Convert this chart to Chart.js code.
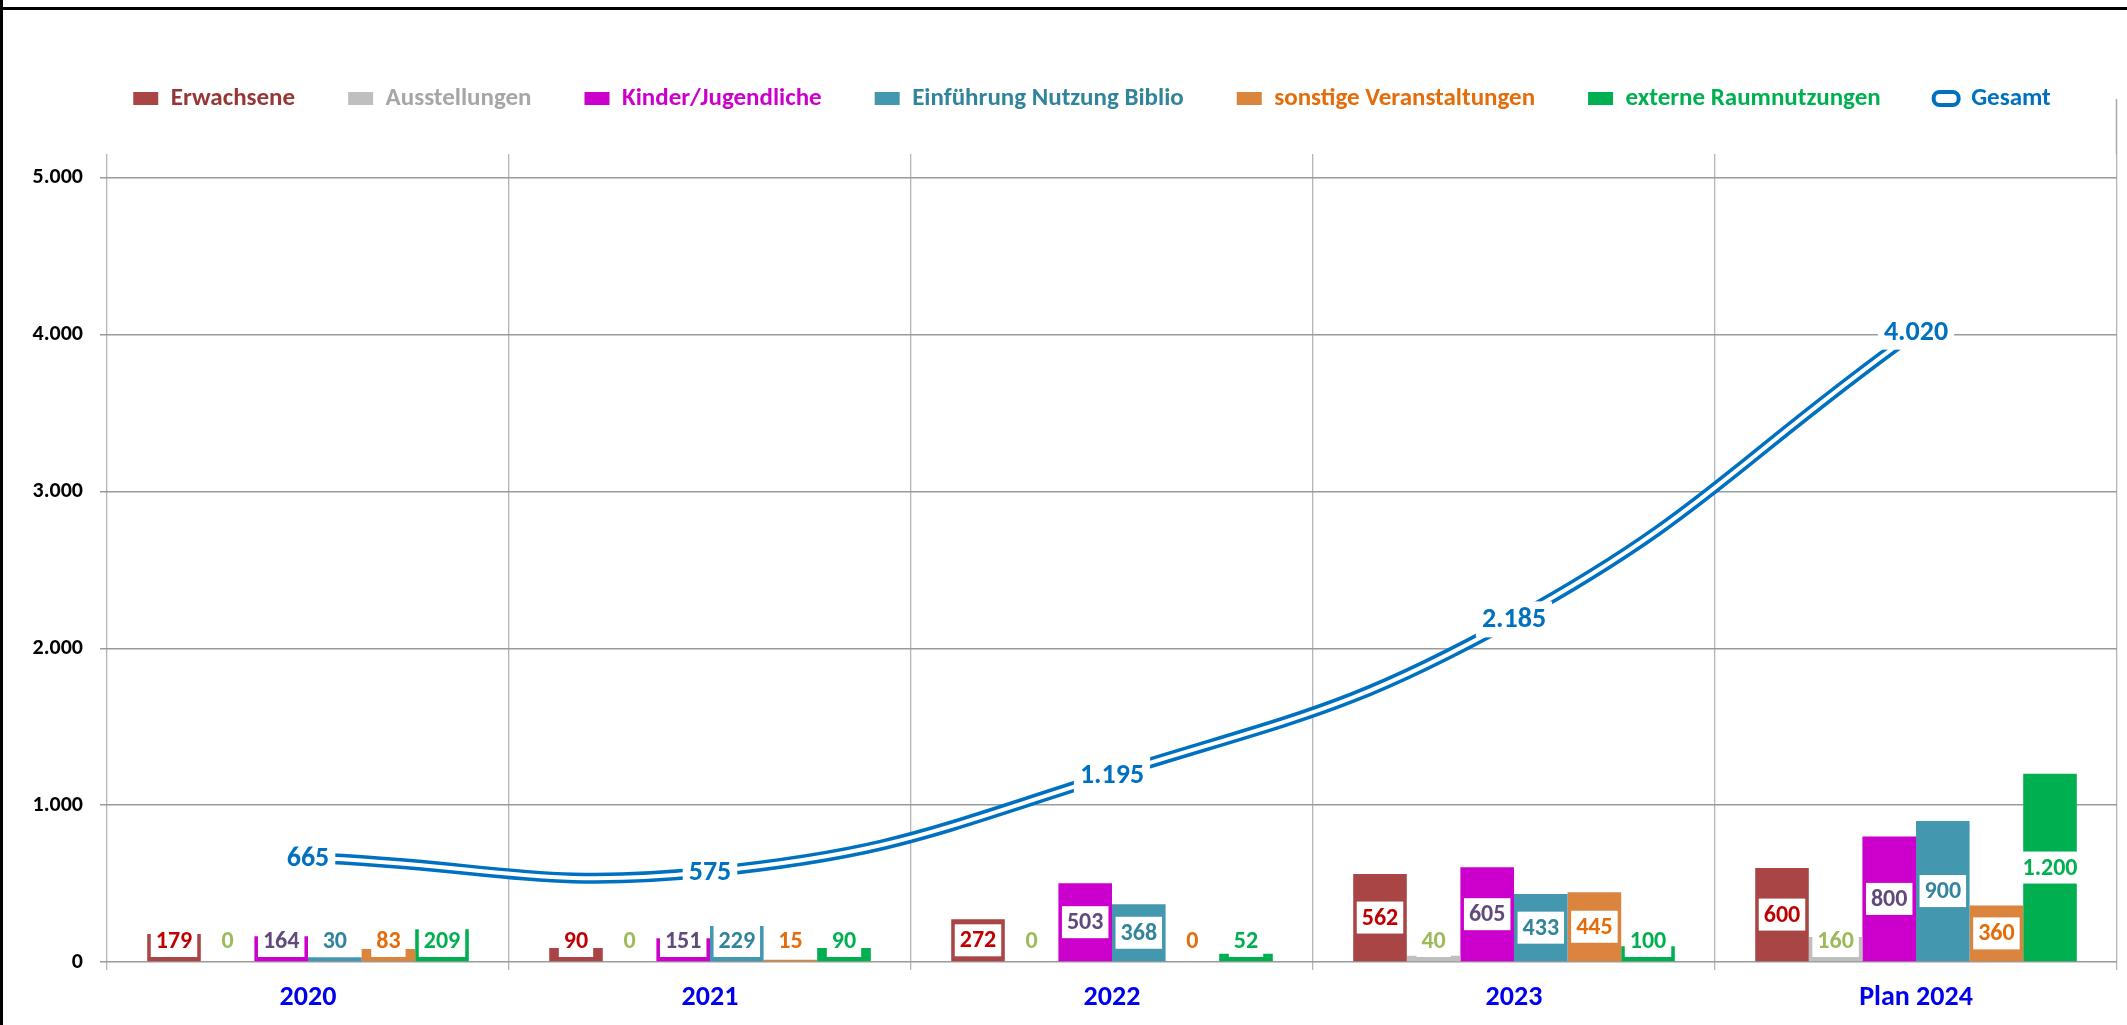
<!DOCTYPE html>
<html><head><meta charset="utf-8">
<script src="https://cdn.jsdelivr.net/npm/chart.js@4/dist/chart.umd.min.js"></script>
<style>
html,body{margin:0;padding:0;background:#fff;}
#wrap{position:relative;width:2127px;height:1025px;overflow:hidden;background:#fff;}
#c{position:absolute;left:0;top:0;}
.bt{position:absolute;left:0;top:7px;width:2127px;height:3px;background:#000;}
.bl{position:absolute;left:0;top:0;width:3px;height:1025px;background:#000;}
</style></head><body>
<div id="wrap"><canvas id="c" width="2127" height="1025"></canvas><div class="bt"></div><div class="bl"></div></div>
<script>
// ---- data ----
const categories = ['2020', '2021', '2022', '2023', 'Plan 2024'];
const erwachsene = [179, 90, 272, 562, 600];
const ausstellungen = [0, 0, 0, 40, 160];
const kinderJugendliche = [164, 151, 503, 605, 800];
const einfuehrung = [30, 229, 368, 433, 900];
const sonstige = [83, 15, 0, 445, 360];
const externe = [209, 90, 52, 100, 1200];
const gesamt = [665, 575, 1195, 2185, 4020];
const yTicks = [0, 1000, 2000, 3000, 4000, 5000];

const FONT = 'Carlito, Lato, "DejaVu Sans", sans-serif';
const fmt = v => String(Math.round(v)).replace(/\B(?=(\d{3})+(?!\d))/g, '.');

function barDs(label, data, color, labelColor, legendColor) {
  return { type: 'bar', label, data, backgroundColor: color, borderWidth: 0,
           labelColor, legendColor, order: 1 };
}

const datasets = [
  barDs('Erwachsene', erwachsene, '#A94645', '#C00000', '#953735'),
  barDs('Ausstellungen', ausstellungen, '#BFBFBF', '#9BBB59', '#A6A6A6'),
  barDs('Kinder/Jugendliche', kinderJugendliche, '#CC00CC', '#604A7B', '#CC00CC'),
  barDs('Einführung Nutzung Biblio', einfuehrung, '#4398AF', '#31849B', '#31849B'),
  barDs('sonstige Veranstaltungen', sonstige, '#DB843D', '#E46C0A', '#E46C0A'),
  barDs('externe Raumnutzungen', externe, '#00B050', '#00B050', '#00B050'),
  { type: 'line', label: 'Gesamt', data: gesamt, borderColor: '#0070C0', backgroundColor: '#ffffff',
    borderWidth: 11, pointRadius: 0, pointHoverRadius: 0, tension: 0.45, fill: false,
    order: -1, lineLabel: true, legendColor: '#0070C0' },
  { type: 'line', label: 'Gesamt-inner', data: gesamt, borderColor: '#ffffff',
    borderWidth: 4, pointRadius: 0, pointHoverRadius: 0, tension: 0.45, fill: false,
    order: -2, overlay: true }
];

const LEGEND_TOP = 33;
const LEGEND_H = 154 - LEGEND_TOP;

const legendHeightPlugin = {
  id: 'legendHeight',
  beforeLayout(chart) {
    const lg = chart.legend;
    if (lg && !lg._patched) {
      const orig = lg.fit;
      lg.fit = function () { orig.call(this); this.height = LEGEND_H; };
      lg._patched = true;
    }
  }
};

const decoPlugin = {
  id: 'deco',
  beforeDatasetsDraw(chart) {
    const ctx = chart.ctx, a = chart.chartArea;
    ctx.save();
    ctx.strokeStyle = '#a8a8a8';
    ctx.lineWidth = 1.5;
    ctx.beginPath();
    ctx.moveTo(a.right - 0.5, 99);
    ctx.lineTo(a.right - 0.5, a.top);
    ctx.stroke();
    ctx.restore();
  }
};

const labelPlugin = {
  id: 'valueLabels',
  afterDatasetsDraw(chart) {
    const ctx = chart.ctx;
    const zeroY = chart.scales.y.getPixelForValue(0);
    ctx.save();
    ctx.textAlign = 'center';
    ctx.textBaseline = 'middle';
    chart.data.datasets.forEach((ds, i) => {
      if (!ds.labelColor) return;
      const meta = chart.getDatasetMeta(i);
      ctx.font = 'bold 24px ' + FONT;
      meta.data.forEach((el, j) => {
        const txt = fmt(ds.data[j]);
        const w = ctx.measureText(txt).width;
        const bw = w + 10, bh = 32;
        const center = (el.y + el.base) / 2;
        const cy = Math.min(center, zeroY - 5 - bh / 2);
        ctx.fillStyle = '#ffffff';
        ctx.fillRect(el.x - bw / 2, cy - bh / 2, bw, bh);
        ctx.fillStyle = ds.labelColor;
        ctx.fillText(txt, el.x, cy + 1);
      });
    });
    chart.data.datasets.forEach((ds, i) => {
      if (!ds.lineLabel) return;
      const meta = chart.getDatasetMeta(i);
      ctx.font = 'bold 28px ' + FONT;
      meta.data.forEach((el, j) => {
        const txt = fmt(ds.data[j]);
        const w = ctx.measureText(txt).width;
        const bw = w + 12, bh = 36;
        ctx.fillStyle = '#ffffff';
        ctx.fillRect(el.x - bw / 2, el.y - bh / 2, bw, bh);
        ctx.fillStyle = '#0070C0';
        ctx.fillText(txt, el.x, el.y + 1);
      });
    });
    ctx.restore();
  }
};

new Chart(document.getElementById('c'), {
  data: { labels: categories, datasets },
  options: {
    responsive: false,
    devicePixelRatio: 1,
    animation: false,
    layout: { padding: { left: 67, right: 10, top: LEGEND_TOP, bottom: 0 } },
    datasets: { bar: { categoryPercentage: 0.8, barPercentage: 1.0 } },
    plugins: {
      tooltip: { enabled: false },
      legend: {
        position: 'top',
        labels: {
          boxWidth: 25, boxHeight: 13, padding: 53,
          font: { family: FONT, size: 25, weight: 'bold' },
          filter: (item, data) => !data.datasets[item.datasetIndex].overlay,
          sort: (a, b) => a.datasetIndex - b.datasetIndex,
          generateLabels(chart) {
            const items = Chart.defaults.plugins.legend.labels.generateLabels(chart);
            items.forEach(it => {
              const ds = chart.data.datasets[it.datasetIndex];
              it.fontColor = ds.legendColor || '#000';
              if (ds.type === 'line') {
                it.fillStyle = '#ffffff';
                it.strokeStyle = '#0070C0';
                it.lineWidth = 4;
                it.lineDash = [];
                it.borderRadius = 6;
              } else {
                it.lineWidth = 0;
              }
            });
            return items;
          }
        }
      }
    },
    scales: {
      x: {
        grid: { offset: true, color: '#b5b5b5', lineWidth: 1.3, tickLength: 8, drawTicks: true },
        border: { display: false },
        ticks: { color: '#0000EE', font: { family: FONT, size: 28, weight: 'bold' }, padding: 11,
                 maxRotation: 0, autoSkip: false },
        afterFit: s => { s.height = 63; }
      },
      y: {
        min: 0, max: 5153,
        ticks: { autoSkip: false, callback: v => fmt(v), color: '#000',
                 font: { family: FONT, size: 22, weight: 'bold' }, padding: 17 },
        grid: { color: '#9a9a9a', lineWidth: 1.5, tickLength: 7 },
        border: { display: false },
        afterBuildTicks: s => { s.ticks = yTicks.map(v => ({ value: v })); },
        afterFit: s => { s.width = 40; s._computeLabelArea = () => undefined; }
      }
    }
  },
  plugins: [legendHeightPlugin, decoPlugin, labelPlugin]
});
</script>
</body></html>
